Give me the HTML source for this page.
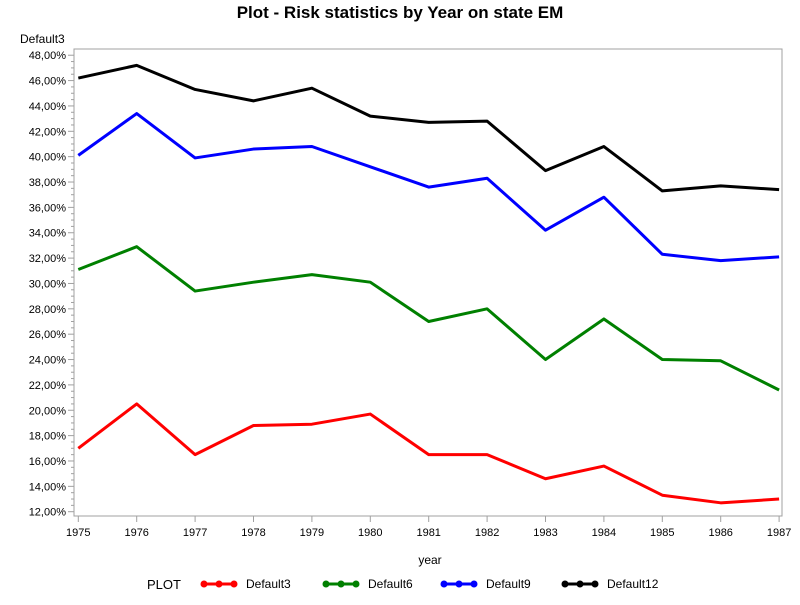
<!DOCTYPE html>
<html><head><meta charset="utf-8"><style>
body{margin:0;background:#fff;font-family:"Liberation Sans",sans-serif}
</style></head><body>
<svg id="c" width="800" height="600" xmlns="http://www.w3.org/2000/svg" font-family="Liberation Sans, sans-serif">
<text x="400" y="18" text-anchor="middle" font-size="17" font-weight="bold">Plot - Risk statistics by Year on state EM</text>
<text x="20" y="43" font-size="12">Default3</text>
<text x="430" y="564" text-anchor="middle" font-size="12">year</text>
<rect x="74" y="49" width="708" height="467" fill="none" stroke="#a0a0a0"/>
<g id="ax"></g><g id="series"></g><g id="legend"></g>
</svg>
<script>
const years=[1975,1976,1977,1978,1979,1980,1981,1982,1983,1984,1985,1986,1987];
const yTicks=[12,14,16,18,20,22,24,26,28,30,32,34,36,38,40,42,44,46,48];
const seriesNames=["Default3","Default6","Default9","Default12"];
const seriesColors=["#ff0000","#008000","#0000ff","#000000"];
const d3=[17.0,20.5,16.5,18.8,18.9,19.7,16.5,16.5,14.6,15.6,13.3,12.7,13.0];
const d6=[31.1,32.9,29.4,30.1,30.7,30.1,27.0,28.0,24.0,27.2,24.0,23.9,21.6];
const d9=[40.1,43.4,39.9,40.6,40.8,39.2,37.6,38.3,34.2,36.8,32.3,31.8,32.1];
const d12=[46.2,47.2,45.3,44.4,45.4,43.2,42.7,42.8,38.9,40.8,37.3,37.7,37.4];
const allSeries=[d3,d6,d9,d12];
const NS="http://www.w3.org/2000/svg";
const xS=v=>78.3+(v-1975)*58.4;
const yS=v=>511.7-(v-12)*12.68;
function mk(tag,attrs,parent){const e=document.createElementNS(NS,tag);for(const k in attrs)e.setAttribute(k,attrs[k]);parent.appendChild(e);return e;}
const ax=document.getElementById('ax');
yTicks.forEach(t=>{
 const y=yS(t);
 const l=mk('line',{x1:68,x2:74,y1:y,y2:y,stroke:'#a0a0a0'},ax);
 
 
 const tx=mk('text',{x:66,y:y+4,'text-anchor':'end','font-size':11},ax);
 tx.textContent=t.toFixed(2).replace('.',',')+'%';
 
 
 if(t<48){for(let k=1;k<4;k++){const ym=yS(t+k*0.5);mk('line',{x1:71,x2:74,y1:ym,y2:ym,stroke:'#a0a0a0'},ax);}}
});
years.forEach(yr=>{
 const x=xS(yr);
 const l=mk('line',{x1:x,x2:x,y1:516,y2:522,stroke:'#a0a0a0'},ax);
 
 
 const tx=mk('text',{x:x,y:536,'text-anchor':'middle','font-size':11},ax);
 tx.textContent=yr;
 
 
});
const sg=document.getElementById('series');
allSeries.forEach((s,i)=>{
 const p=mk('polyline',{points:s.map((v,j)=>xS(years[j])+','+yS(v)).join(' '),fill:'none',stroke:seriesColors[i],'stroke-width':3,'stroke-linejoin':'round'},sg);
 
 
});
const lg=document.getElementById('legend');
const pt=mk('text',{x:147,y:589,'font-size':13},lg);
pt.textContent='PLOT';


const lx=[204,326,444,565];
seriesNames.forEach((n,i)=>{
 const g=mk('g',{},lg);
 
 
 mk('line',{x1:lx[i],x2:lx[i]+30,y1:584,y2:584,stroke:seriesColors[i],'stroke-width':3},g);
 [0,15,30].forEach(o=>mk('circle',{cx:lx[i]+o,cy:584,r:3.5,fill:seriesColors[i]},g));
 const t=mk('text',{x:lx[i]+42,y:588,'font-size':12},g);
 t.textContent=n;
});
</script>
</body></html>
